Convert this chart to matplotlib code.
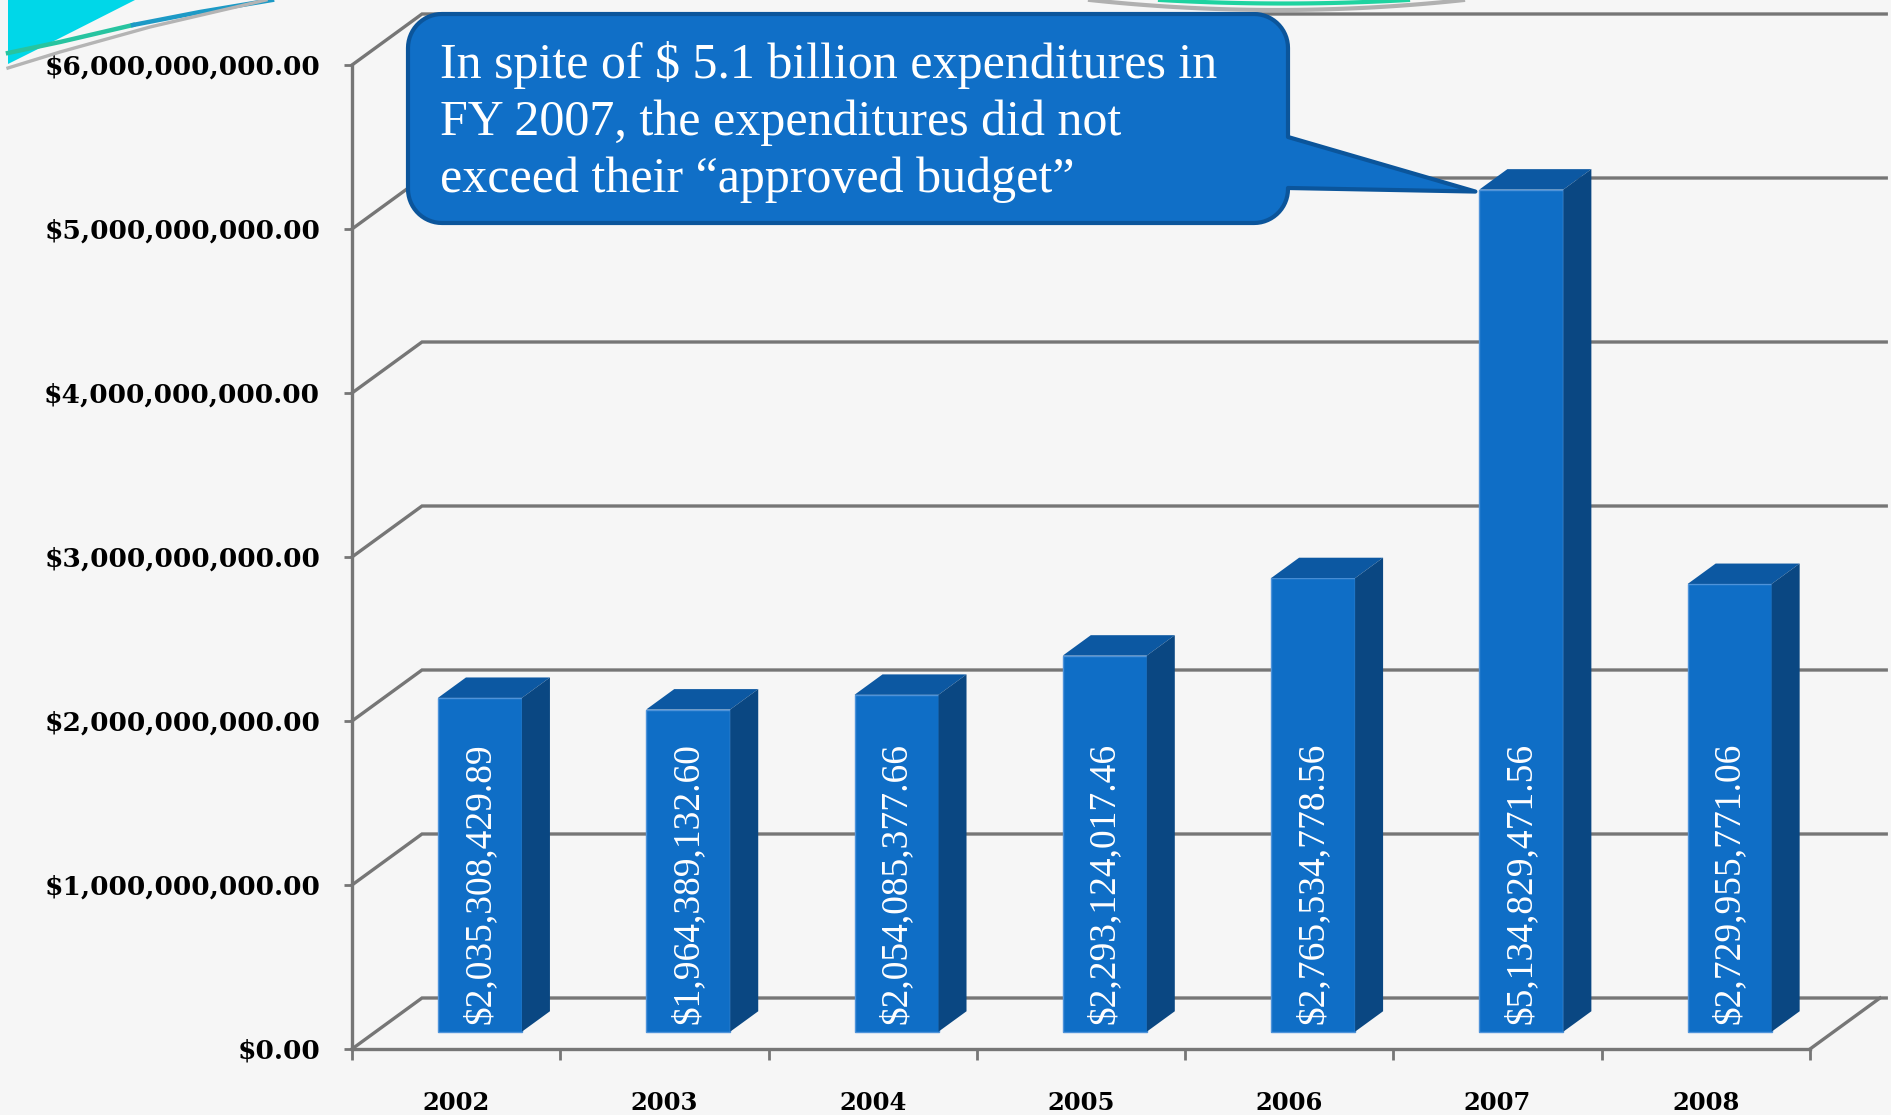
import matplotlib.pyplot as plt
from matplotlib.patches import Polygon
import numpy as np

years = ['2002', '2003', '2004', '2005', '2006', '2007', '2008']
spending = [2035308429.89, 1964389132.60, 2054085377.66, 2293124017.46,
            2765534778.56, 5134829471.56, 2729955771.06]
y_ticks = [0, 1e9, 2e9, 3e9, 4e9, 5e9, 6e9]
note_lines = ['In spite of $ 5.1 billion expenditures in',
              'FY 2007, the expenditures did not',
              'exceed their \u201capproved budget\u201d']
note_year = '2007'

W, H = 1891, 1115
fig = plt.figure(figsize=(W / 100, H / 100), dpi=100)
fig.patch.set_facecolor('#f6f6f6')

# front floor edge runs 352 -> 1810 px, $0 sits at 1049 px, $1B is 164 px tall
x0_px, x1_px, base_px, per_b = 352, 1810, 1049, 164
n = len(years)
cat_px = (x1_px - x0_px) / n
ax = fig.add_axes([x0_px / W, (H - base_px) / H, (W - x0_px) / W, base_px / H])
ax.set_xlim(-0.5, -0.5 + (W - x0_px) / cat_px)
ax.set_ylim(0, base_px / per_b * 1e9)
ax.patch.set_visible(False)

# depth of the pseudo-3d box, in data units
DX = 70 / cat_px
DY = 51 / per_b * 1e9
grid_c = '#767676'
grid_lw = 2.4

# side wall + back wall gridlines
for v in y_ticks:
    ax.plot([-0.5, -0.5 + DX, n - 0.5 + DX + 0.03], [v, v + DY, v + DY],
            color=grid_c, lw=grid_lw, zorder=1, clip_on=False,
            solid_joinstyle='miter')
ax.plot([n - 0.5, n - 0.5 + DX], [0, DY], color=grid_c, lw=grid_lw,
        zorder=1, clip_on=False)

for side in ['top', 'right']:
    ax.spines[side].set_visible(False)
ax.spines['left'].set_bounds(0, 6e9)
ax.spines['bottom'].set_bounds(-0.5, n - 0.5)
for side in ['left', 'bottom']:
    ax.spines[side].set_color(grid_c)
    ax.spines[side].set_linewidth(grid_lw)
    ax.spines[side].set_zorder(2)

ax.set_yticks(y_ticks, labels=[f'${v:,.2f}' for v in y_ticks],
              fontfamily='DejaVu Serif', fontweight='bold', fontsize=19)
ax.tick_params(axis='y', length=6, width=2, color=grid_c, pad=17)
ax.set_xticks(np.arange(n + 1) - 0.5, labels=[])
ax.set_xticks(np.arange(n), labels=years, minor=True,
              fontfamily='DejaVu Serif', fontweight='bold', fontsize=17.5)
ax.tick_params(axis='x', which='major', length=8, width=2, color=grid_c)
ax.tick_params(axis='x', which='minor', length=0, pad=30)

# bars sit in the middle of the floor depth
f1, f2 = 0.34, 0.74
bw = 84 / cat_px
front_c, top_c, side_c = '#0f6ec6', '#0c58a2', '#0a4782'
xs = np.arange(n) + f1 * DX
ax.bar(xs, spending, width=bw, bottom=f1 * DY, color=front_c,
       edgecolor='#4e93da', linewidth=1.0, zorder=3)
ddx, ddy = (f2 - f1) * DX, (f2 - f1) * DY
for xc, v in zip(xs, spending):
    xl, xr = xc - bw / 2, xc + bw / 2
    yb, yt = f1 * DY, v + f1 * DY
    ax.add_patch(Polygon([(xl, yt), (xr, yt), (xr + ddx, yt + ddy),
                          (xl + ddx, yt + ddy)], closed=True,
                         facecolor=top_c, edgecolor='none', zorder=3))
    ax.add_patch(Polygon([(xr, yb), (xr + ddx, yb + ddy), (xr + ddx, yt + ddy),
                          (xr, yt)], closed=True,
                         facecolor=side_c, edgecolor='none', zorder=3))
    ax.text(xc, yb + 8 / per_b * 1e9, f'${v:,.2f}', rotation=90,
            ha='center', va='bottom', color='white',
            fontfamily='Liberation Serif', fontsize=27, zorder=4)

# overlay in pixel units for the callout and slide decorations
deco = fig.add_axes([0, 0, 1, 1], zorder=5)
deco.set_xlim(0, W)
deco.set_ylim(H, 0)
deco.axis('off')
deco.patch.set_visible(False)

# slide ornaments: cyan wedge and swooshes top-left, arcs top-centre
deco.add_patch(Polygon([(8, 0), (135, 0), (60, 38), (8, 64)], closed=True,
                       facecolor='#00d7e8', edgecolor='none'))
deco.plot([8, 60, 133], [53, 42, 25], color='#27c4a0', lw=3.2)
deco.plot([133, 200, 272], [25, 12, 0], color='#1d9ac6', lw=3.2)
deco.plot([8, 60, 150, 266], [68, 52, 27, 0], color='#b4b4b4', lw=2.4)
ax_x = np.linspace(1090, 1463, 60)
deco.plot(ax_x, 10 * (1 - ((ax_x - 1277) / 187) ** 2), color='#b0b0b0', lw=3)
ax_x = np.linspace(1160, 1408, 60)
deco.plot(ax_x, 3.5 * (1 - ((ax_x - 1284) / 124) ** 2), color='#1fd3a0', lw=3)

# callout box pointing at the top corner of the 2007 bar
k = years.index(note_year)
cx, cy = ax.transData.transform((xs[k] - bw / 2, spending[k] + f1 * DY))
tip = (cx - 4, H - cy + 2)
bx1, by1, bx2, by2, r = 408, 14, 1288, 223, 34


def arc(xc, yc, t0, t1):
    t = np.radians(np.linspace(t0, t1, 16))
    return list(zip(xc + r * np.cos(t), yc + r * np.sin(t)))


pts = [(bx1 + r, by1), (bx2 - r, by1)]
pts += arc(bx2 - r, by1 + r, -90, 0)
pts += [(bx2, 137), tip, (bx2, 188)]
pts += arc(bx2 - r, by2 - r, 0, 90)
pts += arc(bx1 + r, by2 - r, 90, 180)
pts += arc(bx1 + r, by1 + r, 180, 270)
deco.add_patch(Polygon(pts, closed=True, facecolor='#106fc7',
                       edgecolor='#0b559b', lw=3, joinstyle='round'))
for i, line in enumerate(note_lines):
    deco.text(440, 78 + 57 * i, line, ha='left', va='baseline', color='white',
              fontfamily='Liberation Serif', fontsize=36)

fig.savefig('out.png', dpi=100, facecolor=fig.get_facecolor())
